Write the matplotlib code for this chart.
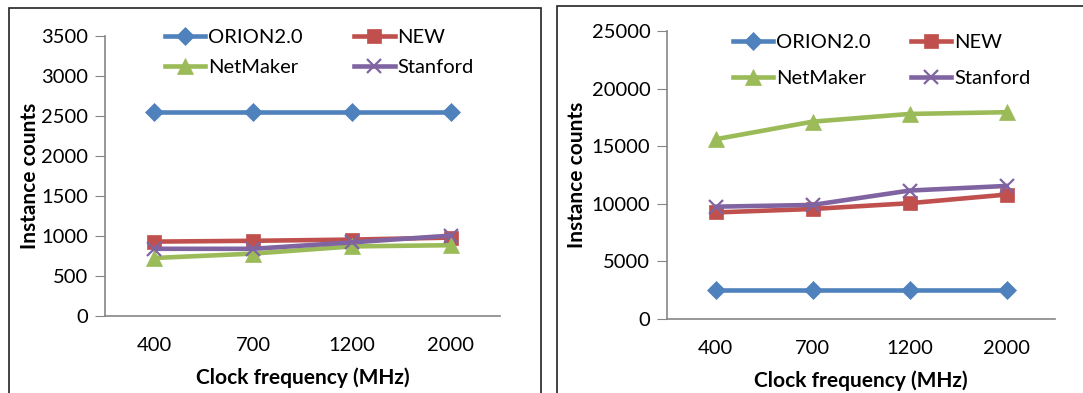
import matplotlib
matplotlib.use("Agg")
import matplotlib.pyplot as plt
from matplotlib.patches import Rectangle

plt.rcParams['font.family'] = ['Lato', 'DejaVu Sans']

# clock frequencies (MHz) used as categories
freqs = ["400", "700", "1200", "2000"]

# instance counts, first design
orion_a = [2550, 2550, 2550, 2550]
new_a = [930, 940, 955, 980]
netmaker_a = [725, 780, 870, 885]
stanford_a = [840, 840, 920, 1005]

# instance counts, second design
orion_b = [2550, 2550, 2550, 2550]
new_b = [9250, 9550, 10050, 10800]
netmaker_b = [15600, 17130, 17800, 17950]
stanford_b = [9750, 9900, 11150, 11550]

series_style = [
    ("ORION2.0", "#4F81BD", "D", 9.5),
    ("NEW", "#C0504D", "s", 10),
    ("NetMaker", "#9BBB59", "^", 11),
    ("Stanford", "#8064A2", "x", 10),
]

W, H = 1083, 393
fig = plt.figure(figsize=(W / 100, H / 100), dpi=100)

# outer frames around each panel
fig.patches.append(Rectangle((9 / W, -0.1), 532 / W, 1.1 - 8 / H,
                             transform=fig.transFigure, fill=False,
                             edgecolor="#222222", linewidth=1.2))
fig.patches.append(Rectangle((557 / W, -0.1), 0.6, 1.1 - 6 / H,
                             transform=fig.transFigure, fill=False,
                             edgecolor="#222222", linewidth=1.2))

ax1 = fig.add_axes([105 / W, 77 / H, 395 / W, 280 / H])
ax2 = fig.add_axes([667 / W, 74 / H, 388 / W, 288 / H])


def draw(ax, data, ymax, step, leg_xy, row_gap, col_gap, ylab_pad):
    x = range(len(freqs))
    lines = []
    for (label, color, marker, ms), vals in zip(series_style, data):
        ln, = ax.plot(x, vals, color=color, marker=marker, markersize=ms,
                      linewidth=3.3, label=label,
                      markeredgewidth=1.6 if marker == "x" else 0.5,
                      markeredgecolor=color, clip_on=False)
        lines.append(ln)
    ax.set_xlim(-0.5, len(freqs) - 0.5)
    ax.set_ylim(0, ymax)
    ax.set_yticks(range(0, ymax + 1, step))
    ax.set_xticks(list(x))
    ax.set_xticklabels(freqs)
    ax.tick_params(axis="y", length=7, color="#868686", labelsize=14.5, pad=5)
    ax.tick_params(axis="x", length=0, labelsize=14.5, pad=15)
    for s in ["top", "right"]:
        ax.spines[s].set_visible(False)
    for s in ["left", "bottom"]:
        ax.spines[s].set_color("#868686")
        ax.spines[s].set_linewidth(1.2)
    ax.set_xlabel("Clock frequency (MHz)", fontsize=15, fontweight="bold", labelpad=10)
    ax.set_ylabel("Instance counts", fontsize=15, fontweight="bold", labelpad=ylab_pad)
    # legend filled row by row: ORION2.0, NEW / NetMaker, Stanford
    order = [0, 2, 1, 3]
    fig.legend([lines[i] for i in order], [series_style[i][0] for i in order],
               loc="upper left", bbox_to_anchor=(leg_xy[0] / W, 1 - leg_xy[1] / H),
               ncol=2, frameon=False, fontsize=14.5, handlelength=2.0,
               handletextpad=0.15, columnspacing=col_gap, labelspacing=row_gap,
               borderaxespad=0, borderpad=0)


draw(ax1, [orion_a, new_a, netmaker_a, stanford_a], 3500, 500, (165, 29), 0.65, 2.55, 1)
draw(ax2, [orion_b, new_b, netmaker_b, stanford_b], 25000, 5000, (733, 34), 0.95, 2.0, 3)

fig.savefig("out.png", dpi=100)
